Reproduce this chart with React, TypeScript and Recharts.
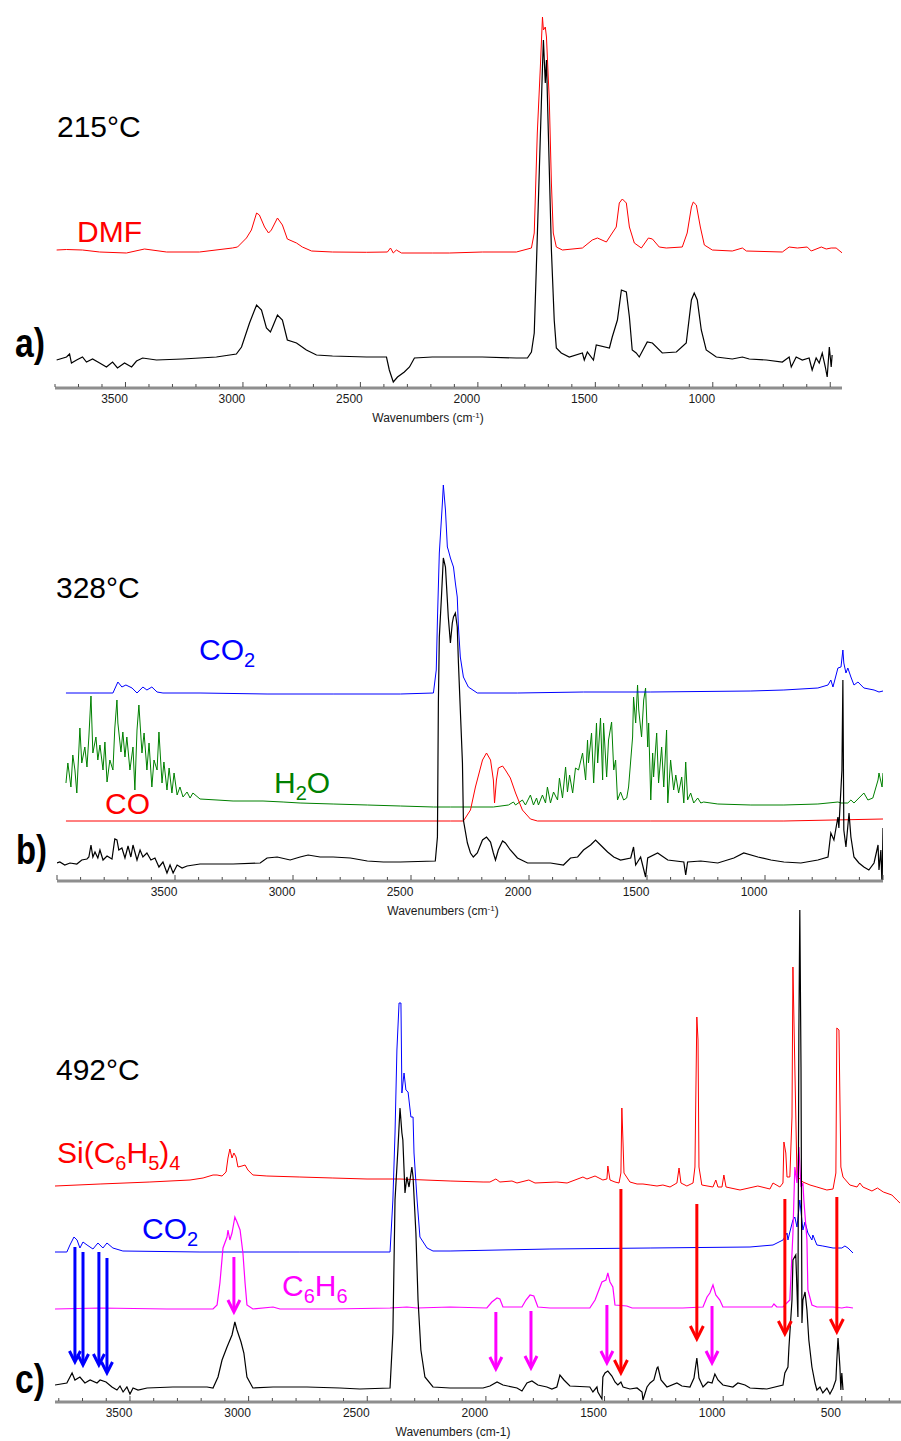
import React from 'react';
import { LineChart, Line, XAxis, YAxis, ReferenceLine } from 'recharts';

type P = [number, number];

const FONT = '"Liberation Sans", Arial, Helvetica, sans-serif';

// ---------------- Panel a (215 °C) ----------------
const aDmf: P[] = [
  [3793, 138], [3751, 138.5], [3683, 138], [3610, 136], [3496, 135], [3419, 139], [3325, 136], [3185, 136],
  [3045, 140], [3023, 141], [2985, 150], [2964, 158], [2942, 175], [2930, 173], [2908, 161], [2891, 155],
  [2879, 158], [2853, 170], [2832, 163], [2811, 149], [2772, 145], [2747, 141], [2708, 137], [2619, 136],
  [2474, 135.7], [2385, 136], [2372, 140], [2360, 135], [2347, 138], [2325, 135], [2194, 135], [2121, 135],
  [1981, 136], [1836, 136], [1772, 140], [1760, 155], [1747, 255], [1734, 321], [1725, 371], [1721, 358],
  [1713, 361], [1708, 351], [1696, 288], [1687, 205], [1679, 155], [1666, 141], [1640, 138], [1555, 140],
  [1513, 148], [1491, 150], [1453, 146], [1428, 155], [1411, 161], [1398, 185], [1385, 189], [1368, 185],
  [1355, 161], [1334, 145], [1304, 140], [1274, 150], [1257, 149], [1228, 141], [1198, 140], [1130, 141],
  [1109, 155], [1091, 181], [1083, 186], [1070, 183], [1053, 161], [1036, 143], [1002, 138], [917, 137],
  [874, 140], [857, 137], [704, 136], [675, 141], [640, 140], [598, 141], [581, 137], [538, 141],
  [517, 139], [496, 140], [475, 140], [449, 135],
];

const aSample: P[] = [
  [3793, 28], [3751, 31], [3738, 34], [3730, 25], [3708, 28], [3683, 31], [3666, 26], [3640, 29],
  [3610, 25], [3581, 21], [3555, 26], [3534, 20], [3504, 25], [3474, 21], [3453, 27], [3427, 30],
  [3368, 28], [3257, 29], [3113, 31], [3028, 34], [3006, 41], [2972, 65], [2942, 83], [2921, 78],
  [2900, 60], [2883, 56], [2874, 61], [2853, 73], [2832, 68], [2811, 48], [2772, 45], [2730, 38],
  [2687, 33], [2619, 32], [2474, 31], [2389, 31], [2377, 18], [2360, 6], [2342, 11], [2313, 16],
  [2291, 21], [2270, 30], [2194, 31], [2121, 31], [1981, 31], [1836, 30], [1789, 30], [1772, 36],
  [1760, 55], [1751, 121], [1738, 221], [1725, 321], [1721, 348], [1713, 305], [1708, 328], [1700, 255],
  [1687, 138], [1675, 68], [1666, 40], [1645, 35], [1611, 31], [1555, 35], [1547, 28], [1534, 36],
  [1508, 28], [1496, 43], [1440, 40], [1428, 51], [1406, 68], [1389, 98], [1368, 96], [1355, 71],
  [1343, 38], [1326, 35], [1313, 31], [1279, 46], [1257, 45], [1215, 35], [1155, 36], [1113, 45],
  [1091, 88], [1079, 95], [1066, 88], [1049, 58], [1028, 38], [985, 31], [917, 29], [874, 31],
  [845, 29], [772, 28], [704, 26], [675, 31], [666, 21], [645, 31], [619, 28], [590, 30],
  [577, 18], [560, 30], [547, 25], [534, 35], [521, 21], [513, 11], [504, 41], [496, 21], [492, 33],
];

// ---------------- Panel b (328 °C) ----------------
const bCO2: P[] = [
  [3962, 188], [3818, 188], [3763, 188], [3742, 199], [3725, 194], [3708, 196], [3682, 193], [3661, 188],
  [3636, 194], [3619, 191], [3598, 194], [3576, 189], [3551, 188], [3394, 188], [3110, 187], [2830, 187],
  [2545, 187], [2405, 188], [2393, 211], [2388, 261], [2380, 328], [2367, 378], [2363, 396], [2354, 371],
  [2346, 334], [2342, 331], [2333, 323], [2320, 314], [2312, 298], [2304, 284], [2299, 254], [2291, 224],
  [2278, 204], [2257, 194], [2219, 188], [2049, 188], [1769, 189], [1484, 189], [1060, 190], [920, 191],
  [776, 193], [733, 196], [721, 201], [712, 194], [691, 213], [678, 214], [670, 231], [666, 218],
  [657, 208], [649, 213], [636, 204], [623, 196], [606, 199], [581, 193], [538, 191], [517, 189], [500, 190],
];

const bH2O: P[] = [
  [3962, 98], [3954, 118], [3941, 94], [3933, 126], [3924, 111], [3916, 88], [3903, 153], [3895, 118],
  [3882, 134], [3873, 114], [3865, 144], [3856, 185], [3848, 128], [3835, 144], [3827, 121], [3818, 136],
  [3805, 111], [3797, 139], [3788, 99], [3776, 121], [3763, 111], [3755, 153], [3746, 181], [3742, 158],
  [3729, 129], [3721, 149], [3712, 124], [3704, 144], [3691, 111], [3678, 134], [3670, 91], [3661, 151],
  [3653, 176], [3640, 128], [3631, 148], [3619, 111], [3610, 138], [3598, 94], [3589, 121], [3576, 111],
  [3568, 149], [3555, 98], [3547, 119], [3534, 91], [3525, 113], [3513, 88], [3504, 108], [3491, 86],
  [3479, 94], [3466, 84], [3449, 89], [3436, 83], [3424, 88], [3394, 82], [3322, 81], [3254, 80],
  [3127, 80], [3042, 79], [2970, 78], [2830, 77], [2685, 76], [2545, 75], [2405, 74], [2333, 74],
  [2248, 74], [2151, 74], [2087, 76], [2066, 79], [2057, 76], [2028, 81], [2015, 76], [1994, 86],
  [1981, 76], [1968, 83], [1960, 76], [1943, 86], [1930, 78], [1922, 94], [1909, 78], [1896, 89],
  [1879, 81], [1871, 103], [1858, 83], [1845, 114], [1837, 89], [1828, 106], [1815, 88], [1803, 113],
  [1790, 111], [1773, 128], [1760, 101], [1752, 141], [1748, 118], [1735, 148], [1726, 98], [1714, 158],
  [1709, 118], [1697, 163], [1688, 101], [1684, 158], [1671, 104], [1663, 141], [1650, 159], [1641, 111],
  [1633, 121], [1625, 81], [1612, 89], [1599, 81], [1586, 83], [1578, 94], [1561, 144], [1557, 184],
  [1548, 158], [1540, 196], [1535, 171], [1523, 144], [1514, 181], [1506, 193], [1497, 134], [1493, 158],
  [1484, 81], [1476, 128], [1472, 104], [1459, 148], [1451, 98], [1438, 134], [1429, 94], [1417, 151],
  [1412, 78], [1400, 121], [1387, 91], [1378, 106], [1366, 88], [1353, 104], [1344, 78], [1336, 119],
  [1328, 81], [1315, 88], [1302, 78], [1285, 83], [1272, 78], [1260, 79], [1200, 77], [1060, 76],
  [920, 76], [776, 77], [733, 78], [691, 79], [678, 78], [649, 78], [636, 81], [623, 78],
  [602, 83], [581, 88], [564, 81], [543, 83], [521, 101], [517, 108], [504, 94], [500, 108],
];

const bCO: P[] = [
  [3962, 60], [2333, 60], [2278, 60], [2248, 71], [2227, 94], [2197, 121], [2180, 128], [2163, 121],
  [2151, 101], [2146, 78], [2138, 101], [2130, 113], [2112, 115], [2100, 111], [2079, 103], [2057, 88],
  [2028, 71], [1994, 62], [1964, 60], [1484, 60], [920, 60], [500, 62],
];

const bSample: P[] = [
  [4000, 18], [3988, 19], [3967, 16], [3945, 18], [3916, 17], [3895, 21], [3873, 22], [3865, 24],
  [3856, 36], [3848, 24], [3839, 29], [3827, 23], [3818, 31], [3805, 21], [3788, 25], [3767, 22],
  [3755, 42], [3746, 41], [3738, 31], [3725, 33], [3712, 23], [3699, 35], [3687, 24], [3678, 36],
  [3661, 21], [3648, 31], [3636, 24], [3619, 28], [3602, 21], [3585, 23], [3568, 14], [3551, 19],
  [3534, 8], [3521, 16], [3508, 8], [3491, 16], [3470, 13], [3449, 15], [3394, 17], [3254, 17],
  [3139, 18], [3110, 23], [3067, 24], [3012, 21], [2970, 24], [2936, 26], [2885, 24], [2830, 24],
  [2757, 23], [2685, 20], [2617, 19], [2545, 19], [2397, 20], [2388, 44], [2384, 178], [2380, 244],
  [2371, 284], [2363, 323], [2354, 314], [2346, 281], [2342, 264], [2333, 238], [2325, 258], [2320, 264],
  [2312, 268], [2304, 254], [2299, 218], [2291, 171], [2282, 118], [2278, 61], [2261, 38], [2248, 28],
  [2236, 24], [2219, 28], [2197, 41], [2180, 44], [2163, 39], [2151, 28], [2142, 21], [2130, 31],
  [2112, 40], [2100, 38], [2079, 31], [2049, 23], [2006, 18], [1909, 18], [1854, 16], [1824, 23],
  [1794, 24], [1769, 31], [1739, 36], [1718, 41], [1697, 36], [1667, 29], [1641, 24], [1612, 21],
  [1569, 23], [1557, 34], [1548, 16], [1527, 24], [1506, 4], [1497, 23], [1455, 28], [1412, 21],
  [1344, 19], [1336, 6], [1328, 19], [1272, 20], [1200, 18], [1132, 23], [1090, 28], [1030, 24],
  [975, 21], [920, 19], [848, 18], [776, 21], [733, 24], [721, 48], [708, 41], [691, 64],
  [687, 53], [674, 111], [670, 201], [666, 51], [657, 34], [644, 68], [636, 44], [623, 24],
  [602, 18], [581, 14], [560, 11], [538, 18], [521, 36], [517, 11], [509, 31], [504, -6], [500, 53],
];

// ---------------- Panel c (492 °C) ----------------
const cSiPh4: P[] = [
  [3816, 216], [3626, 218], [3416, 220], [3247, 222], [3192, 224], [3150, 227], [3133, 227], [3112, 226],
  [3095, 230], [3087, 244], [3079, 253], [3070, 244], [3062, 249], [3053, 245], [3045, 235], [3028, 236],
  [3015, 237], [3003, 232], [2982, 227], [2923, 226], [2784, 225], [2645, 224], [2501, 223], [2362, 223],
  [2151, 221], [2012, 220], [1983, 220], [1958, 223], [1941, 220], [1890, 221], [1869, 219], [1819, 222],
  [1793, 219], [1701, 220], [1658, 219], [1591, 225], [1574, 223], [1540, 226], [1507, 222], [1490, 223],
  [1486, 236], [1477, 222], [1456, 220], [1439, 219], [1431, 229], [1427, 294], [1422, 259], [1418, 229],
  [1393, 220], [1363, 218], [1338, 218], [1308, 217], [1279, 216], [1254, 217], [1224, 215], [1195, 219],
  [1186, 234], [1178, 219], [1153, 216], [1127, 219], [1119, 235], [1111, 385], [1106, 362], [1102, 235],
  [1090, 217], [1043, 215], [1031, 222], [1022, 215], [1005, 215], [997, 227], [988, 215], [929, 212],
  [854, 216], [803, 213], [790, 219], [761, 215], [748, 219], [744, 260], [736, 249], [731, 225],
  [719, 225], [710, 285], [706, 435], [698, 335], [689, 226], [685, 225], [664, 220], [634, 217],
  [605, 215], [563, 212], [537, 213], [525, 229], [521, 374], [512, 372], [504, 235], [495, 225],
  [466, 217], [436, 215], [424, 219], [411, 215], [373, 211], [350, 214], [325, 210], [289, 207],
  [268, 202], [255, 199],
];

const cCO2: P[] = [
  [3816, 150], [3766, 150], [3753, 157], [3736, 165], [3723, 162], [3711, 154], [3698, 160], [3681, 157],
  [3656, 153], [3635, 159], [3614, 154], [3597, 159], [3572, 154], [3530, 151], [3205, 150], [2784, 150],
  [2404, 150], [2392, 202], [2383, 269], [2375, 352], [2366, 399], [2358, 399], [2354, 309], [2345, 329],
  [2337, 312], [2328, 310], [2316, 285], [2307, 285], [2303, 249], [2290, 202], [2278, 165], [2248, 154],
  [2223, 151], [2151, 151], [1730, 153], [1308, 154], [887, 155], [790, 157], [748, 162], [731, 169],
  [727, 162], [719, 170], [706, 182], [698, 185], [689, 175], [677, 202], [664, 172], [655, 180],
  [643, 169], [626, 162], [622, 167], [605, 157], [580, 156], [537, 154], [500, 154], [487, 156],
  [474, 154], [457, 150], [453, 149],
];

const cC6H6: P[] = [
  [3816, 93], [3626, 94], [3344, 93], [3150, 93], [3133, 97], [3121, 119], [3108, 154], [3091, 165],
  [3087, 172], [3079, 162], [3070, 169], [3058, 185], [3049, 180], [3036, 172], [3024, 149], [3015, 119],
  [3007, 97], [2982, 93], [2897, 95], [2868, 93], [2645, 93], [2404, 94], [2333, 95], [2290, 94],
  [2151, 95], [1996, 94], [1975, 100], [1953, 104], [1941, 103], [1928, 95], [1848, 95], [1831, 102],
  [1814, 107], [1798, 106], [1781, 95], [1730, 94], [1562, 94], [1540, 102], [1511, 120], [1494, 122],
  [1486, 129], [1477, 120], [1465, 115], [1456, 97], [1406, 96], [1384, 94], [1170, 94], [1085, 95],
  [1068, 105], [1056, 109], [1043, 117], [1031, 107], [1014, 102], [1001, 95], [887, 95], [795, 95],
  [786, 98], [774, 95], [748, 95], [719, 102], [706, 169], [698, 235], [689, 219], [681, 255],
  [672, 215], [664, 219], [660, 202], [647, 162], [643, 112], [626, 97], [605, 95], [537, 95],
  [500, 94], [479, 95], [453, 94],
];

const cSample: P[] = [
  [3816, 17], [3766, 19], [3744, 29], [3732, 22], [3711, 25], [3690, 19], [3668, 22], [3639, 19],
  [3626, 22], [3601, 20], [3576, 15], [3555, 12], [3542, 16], [3529, 10], [3513, 15], [3500, 8],
  [3487, 14], [3466, 12], [3428, 14], [3319, 15], [3175, 15], [3150, 14], [3129, 25], [3112, 42],
  [3091, 55], [3070, 67], [3058, 80], [3049, 72], [3032, 60], [3020, 49], [3007, 25], [2982, 14],
  [2897, 15], [2754, 15], [2615, 14], [2531, 13], [2404, 14], [2392, 69], [2383, 202], [2371, 252],
  [2362, 294], [2354, 269], [2350, 262], [2341, 209], [2333, 225], [2324, 215], [2312, 235], [2307, 225],
  [2295, 169], [2286, 102], [2274, 52], [2257, 25], [2223, 15], [2151, 14], [2012, 14], [1983, 16],
  [1953, 20], [1928, 17], [1869, 14], [1848, 11], [1827, 19], [1806, 21], [1781, 17], [1743, 15],
  [1722, 13], [1701, 15], [1688, 27], [1671, 22], [1646, 16], [1562, 15], [1549, 10], [1532, 15],
  [1528, 10], [1511, 3], [1507, 25], [1498, 29], [1486, 31], [1469, 26], [1456, 20], [1444, 17],
  [1431, 20], [1422, 15], [1393, 13], [1363, 14], [1342, 10], [1338, 2], [1321, 15], [1308, 19],
  [1292, 22], [1279, 34], [1275, 35], [1262, 22], [1237, 15], [1195, 19], [1174, 16], [1140, 15],
  [1123, 24], [1111, 44], [1102, 24], [1085, 15], [1064, 20], [1047, 19], [1035, 28], [1022, 22],
  [1001, 17], [959, 15], [938, 19], [908, 17], [887, 14], [816, 13], [748, 17], [740, 29],
  [727, 35], [723, 54], [710, 102], [706, 142], [694, 147], [685, 85], [681, 369], [677, 492],
  [672, 335], [668, 79], [664, 102], [655, 110], [647, 92], [639, 62], [626, 35], [613, 19],
  [605, 12], [592, 15], [580, 9], [563, 14], [550, 8], [537, 14], [525, 22], [521, 42],
  [516, 64], [508, 35], [504, 12], [500, 29], [495, 12],
];

// annotation arrows in panel c: wavenumber, start value, tip value
const cArrows: { wn: number; from: number; to: number; color: string; head: number }[] = [
  { wn: 3732, from: 155, to: 40, color: '#0000ff', head: 11 },
  { wn: 3698, from: 150, to: 37, color: '#0000ff', head: 11 },
  { wn: 3631, from: 150, to: 37, color: '#0000ff', head: 11 },
  { wn: 3597, from: 144, to: 29, color: '#0000ff', head: 11 },
  { wn: 3062, from: 145, to: 90, color: '#ff00ff', head: 12 },
  { wn: 1958, from: 90, to: 33, color: '#ff00ff', head: 12 },
  { wn: 1810, from: 91, to: 34, color: '#ff00ff', head: 12 },
  { wn: 1490, from: 97, to: 39, color: '#ff00ff', head: 12 },
  { wn: 1431, from: 213, to: 29, color: '#ff0000', head: 13 },
  { wn: 1111, from: 198, to: 63, color: '#ff0000', head: 13 },
  { wn: 1047, from: 96, to: 39, color: '#ff00ff', head: 12 },
  { wn: 740, from: 203, to: 68, color: '#ff0000', head: 13 },
  { wn: 521, from: 205, to: 70, color: '#ff0000', head: 13 },
];

const aTickLabels = [3500, 3000, 2500, 2000, 1500, 1000];
const bTickLabels = [3500, 3000, 2500, 2000, 1500, 1000];
const cTickLabels = [3500, 3000, 2500, 2000, 1500, 1000, 500];

const aTicks = [3800, 3700, 3600, 3500, 3400, 3300, 3200, 3100, 3000, 2900, 2800, 2700, 2600, 2500, 2400, 2300, 2200,
  2100, 2000, 1900, 1800, 1700, 1600, 1500, 1400, 1300, 1200, 1100, 1000, 900, 800, 700, 600, 500];
const bTicks = [4000, 3900, ...aTicks];
const cTicks = [...aTicks, 400, 300];

const toRows = (pts: P[]) => pts.map(([wn, v]) => ({ wn, v }));

function makeTick(labels: number[]) {
  return (props: any) => {
    const { x, y, payload } = props;
    const v = payload.value as number;
    const major = v % 500 === 0;
    return (
      <g>
        <line x1={x} x2={x} y1={y - 1} y2={y - (major ? 6 : 4)} stroke="#4a4a4a" strokeWidth={1} />
        {labels.includes(v) ? (
          <text x={x - 11} y={y + 15} textAnchor="middle" fontSize={12} fontFamily={FONT} fill="#1a1a1a">
            {v}
          </text>
        ) : null}
      </g>
    );
  };
}

const arrowShape = (color: string, head: number) => (props: any) => {
  const { x1, y1, x2, y2 } = props;
  return (
    <g>
      <line x1={x1} y1={y1} x2={x2} y2={y2 - 2} stroke={color} strokeWidth={3} />
      <polyline
        points={`${x2 - head * 0.5},${y2 - head} ${x2},${y2} ${x2 + head * 0.5},${y2 - head}`}
        fill="none"
        stroke={color}
        strokeWidth={3}
      />
    </g>
  );
};

type Series = { data: P[]; color: string; width: number };

function Panel(props: {
  top: number; width: number; height: number; mTop: number; mLeft: number; mRight: number;
  axisH: number; xDomain: [number, number]; yMax: number; ticks: number[]; labels: number[];
  series: Series[]; arrows?: typeof cArrows;
}) {
  const { top, width, height, mTop, mLeft, mRight, axisH, xDomain, yMax, ticks, labels, series, arrows } = props;
  return (
    <div style={{ position: 'absolute', left: 0, top, width, height }}>
      <LineChart width={width} height={height} margin={{ top: mTop, left: mLeft, right: mRight, bottom: 0 }}>
        <XAxis
          type="number"
          dataKey="wn"
          domain={xDomain}
          reversed
          allowDataOverflow
          ticks={ticks}
          interval={0}
          tickSize={0}
          tickMargin={0}
          tickLine={false}
          tick={makeTick(labels)}
          axisLine={{ stroke: '#8e8e8e', strokeWidth: 3 }}
          height={axisH}
        />
        <YAxis type="number" hide domain={[0, yMax]} allowDataOverflow />
        {series.map((s, i) => (
          <Line
            key={i}
            data={toRows(s.data)}
            dataKey="v"
            type="linear"
            stroke={s.color}
            strokeWidth={s.width}
            dot={false}
            activeDot={false}
            isAnimationActive={false}
          />
        ))}
        {(arrows || []).map((a, i) => (
          <ReferenceLine
            key={'ar' + i}
            segment={[{ x: a.wn, y: a.from }, { x: a.wn, y: a.to }]}
            stroke={a.color}
            shape={arrowShape(a.color, a.head)}
          />
        ))}
      </LineChart>
    </div>
  );
}

function Sub({ children, dy = 7 }: { children: React.ReactNode; dy?: number }) {
  return null as any;
}

export default function App() {
  const big = 30;
  const sub = 20;
  return (
    <div style={{ position: 'absolute', left: 0, top: 0, width: 901, height: 1441, overflow: 'hidden', background: '#fff' }}>
      <Panel
        top={0} width={862} height={438} mTop={8} mLeft={55} mRight={20} axisH={50}
        xDomain={[450, 3800]} yMax={380} ticks={aTicks} labels={aTickLabels}
        series={[
          { data: aDmf, color: '#ff0000', width: 1 },
          { data: aSample, color: '#000000', width: 1.2 },
        ]}
      />
      <Panel
        top={450} width={893} height={471} mTop={10} mLeft={57} mRight={10} axisH={40}
        xDomain={[500, 4000]} yMax={421} ticks={bTicks} labels={bTickLabels}
        series={[
          { data: bH2O, color: '#008000', width: 1 },
          { data: bCO, color: '#ff0000', width: 1 },
          { data: bCO2, color: '#0000ff', width: 1 },
          { data: bSample, color: '#000000', width: 1.2 },
        ]}
      />
      <Panel
        top={890} width={913} height={551} mTop={10} mLeft={55} mRight={0} axisH={39}
        xDomain={[200, 3816]} yMax={502} ticks={cTicks} labels={cTickLabels}
        series={[
          { data: cSiPh4, color: '#ff0000', width: 1 },
          { data: cCO2, color: '#0000ff', width: 1 },
          { data: cC6H6, color: '#ff00ff', width: 1.2 },
          { data: cSample, color: '#000000', width: 1.2 },
        ]}
        arrows={cArrows}
      />
      <svg width={901} height={1441} style={{ position: 'absolute', left: 0, top: 0, pointerEvents: 'none' }} fontFamily={FONT}>
        {/* panel a */}
        <text x={57} y={137} fontSize={big} fill="#000">215°C</text>
        <text x={77} y={242} fontSize={big} fill="#ff0000">DMF</text>
        <text x={15} y={357} fontSize={40} fontWeight="bold" fill="#000" textLength={30} lengthAdjust="spacingAndGlyphs">a)</text>
        <text x={428} y={422} fontSize={12} textAnchor="middle" fill="#1a1a1a">
          Wavenumbers  (cm<tspan fontSize={8} dy={-4}>-1</tspan><tspan dy={4}>)</tspan>
        </text>
        {/* panel b */}
        <text x={56} y={598} fontSize={big} fill="#000">328°C</text>
        <text x={199} y={660} fontSize={big} fill="#0000ff">CO<tspan fontSize={sub} dy={7}>2</tspan></text>
        <text x={274} y={793} fontSize={big} fill="#008000">H<tspan fontSize={sub} dy={7}>2</tspan><tspan dy={-7}>O</tspan></text>
        <text x={105} y={814} fontSize={big} fill="#ff0000">CO</text>
        <text x={16} y={864} fontSize={40} fontWeight="bold" fill="#000" textLength={31} lengthAdjust="spacingAndGlyphs">b)</text>
        <text x={443} y={915} fontSize={12} textAnchor="middle" fill="#1a1a1a">
          Wavenumbers  (cm<tspan fontSize={8} dy={-4}>-1</tspan><tspan dy={4}>)</tspan>
        </text>
        {/* panel c */}
        <text x={56} y={1080} fontSize={big} fill="#000">492°C</text>
        <text x={57} y={1163} fontSize={big} fill="#ff0000">
          Si(C<tspan fontSize={sub} dy={7}>6</tspan><tspan dy={-7}>H</tspan><tspan fontSize={sub} dy={7}>5</tspan><tspan dy={-7}>)</tspan><tspan fontSize={sub} dy={7}>4</tspan>
        </text>
        <text x={142} y={1239} fontSize={big} fill="#0000ff">CO<tspan fontSize={sub} dy={7}>2</tspan></text>
        <text x={282} y={1296} fontSize={big} fill="#ff00ff">
          C<tspan fontSize={sub} dy={7}>6</tspan><tspan dy={-7}>H</tspan><tspan fontSize={sub} dy={7}>6</tspan>
        </text>
        <text x={15} y={1393} fontSize={40} fontWeight="bold" fill="#000" textLength={30} lengthAdjust="spacingAndGlyphs">c)</text>
        <text x={453} y={1436} fontSize={12} textAnchor="middle" fill="#1a1a1a">Wavenumbers  (cm-1)</text>
      </svg>
    </div>
  );
}
